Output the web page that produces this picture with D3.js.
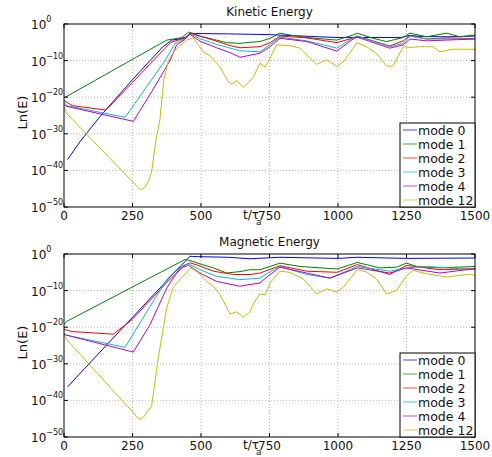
<!DOCTYPE html>
<html lang="en">
<head>
<meta charset="UTF-8">
<title>Kinetic and Magnetic Energy</title>
<script src="https://d3js.org/d3.v7.min.js"></script>
<style>
    body { margin: 0; background: #fff; }
    text { font-family: "DejaVu Sans", "Liberation Sans", sans-serif; fill: #111; }
</style>
</head>
<body>
<div id="chart"></div>
<script>
    // legend names and colours (MATLAB default order)
    const modes = ["mode 0", "mode 1", "mode 2", "mode 3", "mode 4", "mode 12"];
    const colors = ["#0000ff", "#008000", "#ff0000", "#00bfbf", "#bf00bf", "#bfbf00"];

    const xTicks = [0, 250, 500, 750, 1000, 1250, 1500];
    const yTickExps = [0, -10, -20, -30, -40, -50];

    // [t/tau_a, log10(E)]
    const ke0 = [[13,-37],[60,-32],[131,-25.3],[250,-15.2],[314,-10],[360,-6.3],[393,-4.4],[420,-4.1],[445,-3.6],[460,-2.5],[480,-2.6],[600,-2.7],[750,-2.9],[900,-3.4],[1000,-3.7],[1230,-3.7],[1262,-3.1],[1300,-3.4],[1400,-3.5],[1500,-3.3]];
    const ke1 = [[0,-20.2],[375,-4.4],[400,-4.1],[430,-3.7],[455,-2.2],[496,-3.3],[545,-4.2],[594,-5.1],[642,-5.3],[679,-5],[715,-4.8],[752,-3.9],[788,-2.5],[825,-3.0],[886,-3.7],[996,-4.4],[1055,-3],[1070,-2.5],[1128,-3.9],[1177,-4.8],[1238,-3.7],[1262,-2.5],[1323,-3.5],[1396,-2.5],[1445,-3.5],[1500,-3.0]];
    const ke2 = [[0,-20.9],[30,-22.3],[150,-23.5],[165,-22.6],[250,-16],[325,-10],[390,-5],[420,-4.3],[445,-3.8],[460,-2.5],[496,-3.3],[557,-4.7],[606,-5.9],[642,-6.5],[715,-6.2],[752,-5.1],[788,-3.3],[886,-3.8],[996,-5.1],[1055,-3.8],[1070,-3.3],[1189,-6.0],[1238,-4.6],[1262,-3.2],[1323,-4.1],[1396,-3.8],[1500,-4]];
    const ke3 = [[0,-21.4],[10,-22.3],[223,-25.5],[300,-17.3],[369,-10],[405,-5.3],[440,-4.1],[460,-2.7],[496,-4],[557,-5.6],[642,-7.3],[715,-7.6],[752,-5.6],[788,-3.6],[886,-4.6],[996,-6.6],[1055,-3.8],[1070,-3.3],[1189,-6.2],[1238,-5.3],[1262,-3.3],[1323,-4.1],[1500,-4.1]];
    const ke4 = [[0,-22.1],[10,-22.5],[253,-26.6],[320,-18.5],[387,-10],[411,-5.7],[440,-4.3],[460,-2.8],[496,-4.7],[557,-6.5],[606,-7.8],[642,-9.1],[715,-8.0],[752,-6.2],[788,-3.9],[886,-4.8],[996,-7.4],[1055,-4.1],[1070,-3.6],[1189,-6.6],[1238,-5.7],[1262,-4.1],[1323,-4.6],[1500,-4.1]];
    const ke12 = [[0,-22.7],[10,-24.5],[277,-45.2],[290,-45],[308,-43],[320,-40.3],[335,-32],[350,-26.2],[365,-15],[381,-10],[405,-7.1],[448,-4.4],[472,-3.8],[508,-7.6],[533,-8.7],[569,-11.7],[600,-15.8],[612,-16.4],[630,-15.5],[655,-17.3],[673,-16],[691,-14.5],[715,-10.7],[734,-11.8],[752,-9.4],[776,-5.7],[825,-5.9],[861,-6.6],[898,-9.4],[922,-11],[959,-9.8],[996,-11.6],[1020,-10.3],[1070,-5.1],[1104,-6.2],[1140,-8.0],[1177,-11.5],[1201,-11.5],[1238,-6.2],[1262,-6.4],[1299,-6.2],[1347,-6.2],[1372,-7.6],[1420,-6.9],[1500,-6.9]];

    const me0 = [[13,-36.3],[100,-29.3],[200,-21.3],[300,-13.3],[400,-5.3],[460,-0.6],[470,-0.7],[600,-0.9],[679,-1.3],[788,-0.9],[1000,-1.2],[1070,-0.9],[1250,-1.2],[1500,-1.1]];
    const me1 = [[0,-19.3],[10,-18.4],[442,-1.5],[460,-1.8],[496,-2.7],[545,-3.8],[594,-5.2],[642,-4.8],[679,-4.3],[715,-4.3],[788,-2.5],[861,-3.4],[996,-4.1],[1055,-2.7],[1070,-2.3],[1152,-3.8],[1213,-3.6],[1250,-2.5],[1287,-3.4],[1372,-3.8],[1500,-3.4]];
    const me2 = [[0,-20.6],[30,-21.2],[180,-21.9],[250,-17.8],[375,-7.8],[442,-3],[460,-2.4],[496,-3.3],[545,-4.7],[618,-5.6],[679,-5.6],[715,-5.2],[788,-3.2],[886,-4.7],[996,-5.0],[1070,-2.9],[1189,-5.6],[1250,-3.1],[1372,-4.3],[1500,-4.0]];
    const me3 = [[0,-21.5],[10,-22.2],[223,-25.5],[314,-14.3],[375,-7],[423,-3.4],[454,-2.7],[496,-4.3],[557,-6.1],[642,-7.0],[715,-6.6],[752,-4.8],[788,-3.4],[886,-5.6],[971,-6.6],[1070,-3.4],[1189,-4.7],[1250,-3.8],[1323,-3.4],[1500,-4.3]];
    const me4 = [[0,-22],[253,-26.8],[314,-19.3],[375,-9.3],[423,-3.8],[454,-3.1],[496,-5.2],[557,-7.5],[642,-8.8],[715,-7.9],[752,-5.6],[788,-3.6],[886,-5.2],[971,-6.6],[1070,-3.8],[1189,-5.2],[1250,-3.8],[1372,-5.2],[1500,-4.0]];
    const me12 = [[0,-22],[10,-23.4],[275,-45.2],[290,-44.6],[320,-41.5],[344,-28.4],[375,-14.7],[400,-8.8],[423,-7],[462,-3.8],[484,-4.7],[521,-7.5],[545,-8.8],[569,-11.1],[594,-14.7],[606,-16.4],[630,-15.8],[655,-17.3],[679,-15.8],[691,-13.6],[715,-10.9],[734,-11.2],[752,-7.9],[788,-4.7],[825,-5.0],[873,-6.8],[922,-10.9],[959,-9.5],[996,-10.4],[1020,-9.0],[1070,-4.3],[1104,-4.9],[1140,-6.8],[1177,-10.9],[1213,-10.0],[1250,-5.9],[1275,-4.5],[1323,-5.4],[1396,-6.3],[1481,-5.5],[1500,-5.9]];

    const W = 492, H = 457;
    const left = 64, right = 475, plotH = 183;

    const svg = d3.select("#chart").append("svg")
        .attr("width", W)
        .attr("height", H);

    const x = d3.scaleLinear().domain([0, 1500]).range([left, right]);

    function drawPanel(top, title, series, id) {
        const y = d3.scaleLog().domain([1e-50, 1]).range([top + plotH, top]);
        const g = svg.append("g");

        g.append("clipPath").attr("id", id)
            .append("rect")
            .attr("x", left).attr("y", top)
            .attr("width", right - left).attr("height", plotH);

        // dotted grid
        g.selectAll(".gx").data(xTicks.slice(1, -1)).enter().append("line")
            .attr("x1", d => x(d)).attr("x2", d => x(d))
            .attr("y1", top).attr("y2", top + plotH)
            .attr("stroke", "#b8b8b8").attr("stroke-dasharray", "1,2");
        g.selectAll(".gy").data(yTickExps.slice(1, -1)).enter().append("line")
            .attr("x1", left).attr("x2", right)
            .attr("y1", d => y(Math.pow(10, d))).attr("y2", d => y(Math.pow(10, d)))
            .attr("stroke", "#b8b8b8").attr("stroke-dasharray", "1,2");

        // curves
        const line = d3.line()
            .x(d => x(d[0]))
            .y(d => y(Math.pow(10, d[1])));
        g.append("g").attr("clip-path", "url(#" + id + ")")
            .selectAll("path").data(series).enter().append("path")
            .attr("d", d => line(d))
            .attr("fill", "none")
            .attr("stroke", (d, i) => colors[i])
            .attr("stroke-width", 1);

        // box with inward ticks
        g.append("rect")
            .attr("x", left).attr("y", top)
            .attr("width", right - left).attr("height", plotH)
            .attr("fill", "none").attr("stroke", "#000").attr("stroke-width", 1);
        const tk = 4;
        xTicks.forEach(t => {
            g.append("line").attr("x1", x(t)).attr("x2", x(t)).attr("y1", top + plotH).attr("y2", top + plotH - tk).attr("stroke", "#000");
            g.append("line").attr("x1", x(t)).attr("x2", x(t)).attr("y1", top).attr("y2", top + tk).attr("stroke", "#000");
        });
        yTickExps.forEach(e => {
            const yy = y(Math.pow(10, e));
            g.append("line").attr("x1", left).attr("x2", left + tk).attr("y1", yy).attr("y2", yy).attr("stroke", "#000");
            g.append("line").attr("x1", right).attr("x2", right - tk).attr("y1", yy).attr("y2", yy).attr("stroke", "#000");
        });

        // x tick labels
        g.selectAll(".xl").data(xTicks).enter().append("text")
            .attr("x", d => x(d))
            .attr("y", top + plotH + 13)
            .attr("text-anchor", "middle")
            .style("font-size", "12px")
            .text(d => d);

        // y tick labels 10^n
        yTickExps.forEach(e => {
            const yy = y(Math.pow(10, e));
            const t = g.append("text").attr("x", 31).attr("y", yy + 5).style("font-size", "12px");
            t.append("tspan").text("10");
            t.append("tspan").attr("dy", -7).style("font-size", "8px")
                .text(e === 0 ? "0" : "\u2212" + Math.abs(e));
        });

        // title
        g.append("text")
            .attr("x", (left + right) / 2)
            .attr("y", top - 8)
            .attr("text-anchor", "middle")
            .style("font-size", "12px")
            .text(title);

        // axis labels
        const xl = g.append("text")
            .attr("x", 243)
            .attr("y", top + plotH + 12)
            .style("font-size", "12px");
        xl.append("tspan").text("t/\u03c4");
        xl.append("tspan").attr("dx", -3).attr("dy", 6).style("font-size", "9px").text("a");

        g.append("text")
            .attr("transform", "translate(27," + (top + plotH / 2 - 3) + ") rotate(-90)")
            .attr("text-anchor", "middle")
            .style("font-size", "13px")
            .text("Ln(E)");

        // legend
        const lw = 75, lh = 84, lx = right - lw, ly = top + plotH - lh;
        const lg = g.append("g");
        lg.append("rect")
            .attr("x", lx).attr("y", ly)
            .attr("width", lw).attr("height", lh)
            .attr("fill", "#fff").attr("stroke", "#000");
        modes.forEach((m, i) => {
            const yy = ly + 7 + i * 14;
            lg.append("line")
                .attr("x1", lx + 3).attr("x2", lx + 17)
                .attr("y1", yy).attr("y2", yy)
                .attr("stroke", colors[i]).attr("stroke-opacity", 0.6).attr("stroke-width", 1.2);
            lg.append("text")
                .attr("x", lx + 18).attr("y", yy + 4.5)
                .style("font-size", "12.5px")
                .text(m);
        });
    }

    drawPanel(24, "Kinetic Energy", [ke0, ke1, ke2, ke3, ke4, ke12], "clipK");
    drawPanel(254, "Magnetic Energy", [me0, me1, me2, me3, me4, me12], "clipM");
</script>
</body>
</html>
